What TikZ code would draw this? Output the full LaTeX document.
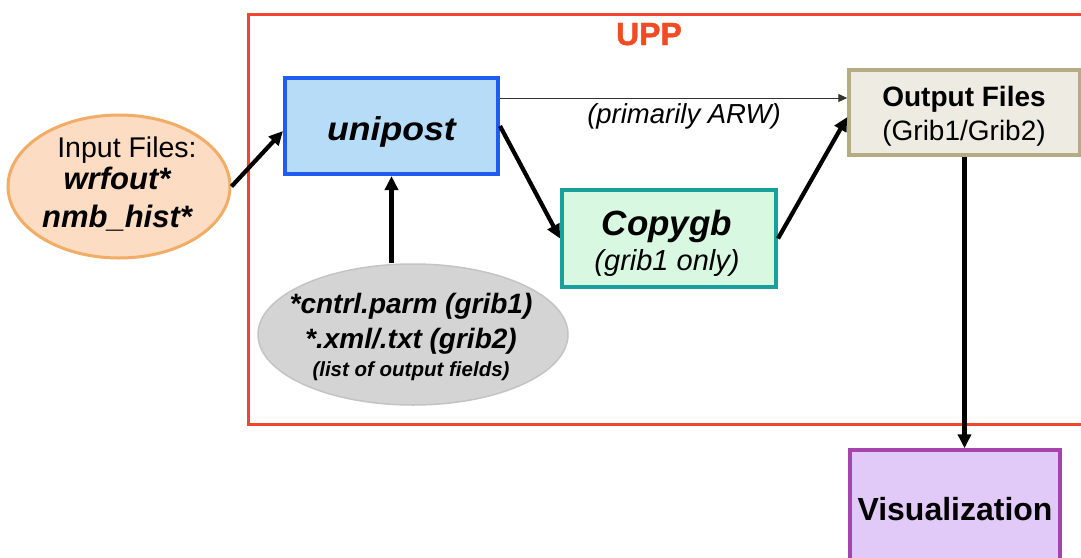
\documentclass[tikz,border=0pt]{standalone}
\usepackage{fontspec}
\setmainfont{Liberation Sans}
\newfontface\uppfont[FakeBold=1.3]{Liberation Sans Bold}
\usetikzlibrary{arrows.meta,shapes.geometric}
\definecolor{frameRed}{HTML}{F04630}
\definecolor{uppRed}{HTML}{F24A22}
\definecolor{uniBorder}{HTML}{1E5CF2}
\definecolor{uniFill}{HTML}{B6DCF8}
\definecolor{inBorder}{HTML}{F2AC66}
\definecolor{inFill}{HTML}{FCDCC2}
\definecolor{grayFill}{HTML}{D4D4D4}
\definecolor{grayBorder}{HTML}{C4C4C4}
\definecolor{cpBorder}{HTML}{18A09C}
\definecolor{cpFill}{HTML}{D8F8E2}
\definecolor{outBorder}{HTML}{B4AC84}
\definecolor{outFill}{HTML}{EEEBE2}
\definecolor{visBorder}{HTML}{A444AC}
\definecolor{visFill}{HTML}{E2CAF8}
\begin{document}
\begin{tikzpicture}[x=1pt,y=-1pt,
  box/.style={draw, rectangle, inner sep=0pt},
  oval/.style={draw, ellipse, inner sep=0pt},
  txt/.style={anchor=base, inner sep=0pt},
  arr/.style={line width=4.2pt, -{Triangle[length=14pt,width=13pt]}},
  thinarr/.style={line width=1pt, draw=black!80, -{Triangle[length=9pt,width=8pt]}}
]
\useasboundingbox (0,0) rectangle (1081,557);
\fill[white] (0,0) rectangle (1081,557);
\clip (0,0) rectangle (1081,557);

% UPP frame
\draw[frameRed, line width=3pt] (248,14) rectangle (1100,424);
\node[txt, text=uppRed, font=\fontsize{32}{38}\uppfont] (upp) at (649,45) {UPP};

% unipost
\node[box, line width=4pt, draw=uniBorder, fill=uniFill, minimum width=213pt, minimum height=96pt]
  (unipost) at (391.5,126) {};
\node[txt, font=\fontsize{33}{40}\selectfont\bfseries\itshape, xscale=1.08] (unitxt) at (391.5,140) {unipost};

% input files
\node[oval, line width=3pt, draw=inBorder, fill=inFill, minimum width=222pt, minimum height=143pt]
  (in) at (119,186.5) {};
\node[txt, font=\fontsize{28.5}{34}\selectfont] (intxt1) at (127,157) {Input Files:};
\node[txt, font=\fontsize{31}{36}\selectfont\bfseries\itshape] (intxt2) at (117,189) {wrfout*};
\node[txt, font=\fontsize{31}{36}\selectfont\bfseries\itshape] (intxt3) at (117,227) {nmb\_hist*};

% control files
\node[oval, line width=1.5pt, draw=grayBorder, fill=grayFill, minimum width=310pt, minimum height=141pt]
  (gray) at (413,334.5) {};
\node[txt, font=\fontsize{28}{34}\selectfont\bfseries\itshape] (gtxt1) at (411,313) {*cntrl.parm (grib1)};
\node[txt, font=\fontsize{28}{34}\selectfont\bfseries\itshape] (gtxt2) at (411,348) {*.xml/.txt (grib2)};
\node[txt, font=\fontsize{20.5}{24}\selectfont\bfseries\itshape] (gtxt3) at (411,376) {(list of output fields)};

% copygb
\node[box, line width=4pt, draw=cpBorder, fill=cpFill, minimum width=214pt, minimum height=97pt]
  (copygb) at (669,238.5) {};
\node[txt, font=\fontsize{35}{40}\selectfont\bfseries\itshape] (cptxt1) at (667,235) {Copygb};
\node[txt, font=\fontsize{29}{34}\selectfont\itshape] (cptxt2) at (667,270) {(grib1 only)};

% output files
\node[box, line width=3.5pt, draw=outBorder, fill=outFill, minimum width=231pt, minimum height=85pt]
  (output) at (964.5,112.5) {};
\node[txt, font=\fontsize{28}{34}\selectfont\bfseries] (outtxt1) at (964,106.5) {Output Files};
\node[txt, font=\fontsize{28}{34}\selectfont] (outtxt2) at (964,140) {(Grib1/Grib2)};

% visualization
\node[box, line width=3.5pt, draw=visBorder, fill=visFill, minimum width=210pt, minimum height=140pt]
  (vis) at (955,520) {};
\node[txt, font=\fontsize{32}{38}\selectfont\bfseries] (vistxt) at (955,520) {Visualization};

% label on the direct path
\node[txt, font=\fontsize{27.5}{32}\selectfont\itshape] (arwlabel) at (684,123) {(primarily ARW)};

% connectors
\draw[arr] (in.east) -- ([yshift=-5pt]unipost.west);
\draw[arr] (gray.north -| unipost.south) -- (unipost.south);
\draw[arr] (unipost.east) -- (copygb.west);
\coordinate (ot) at ([yshift=14.5pt]output.west);
\draw[thinarr] (ot -| unipost.east) -- (ot);
\draw[arr] (copygb.east) -- ([yshift=-4.5pt]output.west);
\draw[arr] (output.south) -- (output.south |- vis.north);
\end{tikzpicture}
\end{document}
